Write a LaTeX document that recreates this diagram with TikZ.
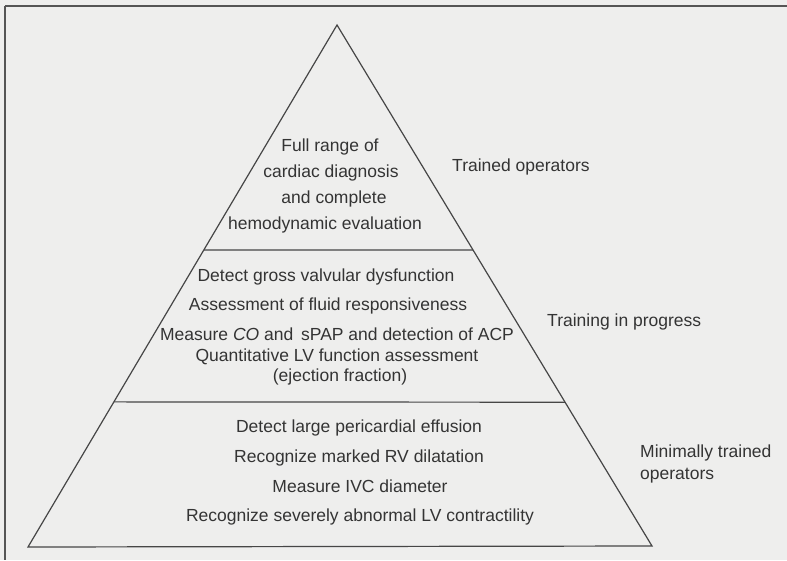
\documentclass[tikz,border=0pt]{standalone}
\usepackage{fontspec}
\setmainfont{Liberation Sans}
\usetikzlibrary{calc}
\definecolor{bgc}{RGB}{238,238,237}
\definecolor{txtc}{RGB}{52,52,52}
\definecolor{linec}{RGB}{70,70,70}
\definecolor{framec}{RGB}{85,85,85}
\begin{document}
\begin{tikzpicture}[x=1pt,y=-1pt,
  lbl/.style={font=\fontsize{17.5}{20}\selectfont, text=txtc, inner sep=0pt, text height=12.5pt, text depth=3.7pt},
  side/.style={lbl, anchor=west},
  edge/.style={draw=linec, line width=1.2pt},
  framel/.style={draw=framec}]
\fill[bgc] (0,0) rectangle (787,560);
\useasboundingbox (0,0) rectangle (787,560);
% page frame
\coordinate (ftl) at (5,6);
\coordinate (ftr) at (787,6);
\coordinate (fbl) at (5,560);
\draw[framel, line width=2pt] (ftl) -- (ftr);
\draw[framel, line width=1.2pt] (ftl) -- (fbl);
% pyramid
\coordinate (apex) at (337,25);
\coordinate (bl) at (28,547);
\coordinate (br) at (652,546);
\draw[edge, line join=miter] (bl) -- (apex) -- (br) -- cycle;
\coordinate (d1l) at ($(apex)!0.431!(bl)$);
\coordinate (d1r) at ($(apex)!0.432!(br)$);
\coordinate (d2l) at ($(apex)!0.722!(bl)$);
\coordinate (d2r) at ($(apex)!0.724!(br)$);
\draw[edge] (d1l) -- (d1r);
\draw[edge] (d2l) -- (d2r);
% top tier
\node[lbl] (t1) at (330,147) {Full range of};
\node[lbl] (t2) at (331,173) {cardiac diagnosis};
\node[lbl] (t3) at (334,199) {and complete};
\node[lbl] (t4) at (325,225) {hemodynamic evaluation};
% middle tier
\node[lbl] (m1) at (326,277) {Detect gross valvular dysfunction};
\node[lbl] (m2) at (328,306) {Assessment of fluid responsiveness};
\node[lbl] (m3) at (337,336) {Measure \textit{CO} and\, sPAP and detection of ACP};
\node[lbl] (m4) at (337,357) {Quantitative LV function assessment};
\node[lbl] (m5) at (340,377) {(ejection fraction)};
% bottom tier
\node[lbl] (b1) at (359,428) {Detect large pericardial effusion};
\node[lbl] (b2) at (359,458) {Recognize marked RV dilatation};
\node[lbl] (b3) at (360,488) {Measure IVC diameter};
\node[lbl] (b4) at (360,517) {Recognize severely abnormal LV contractility};
% side labels
\node[side] (s1) at (452,167) {Trained operators};
\node[side] (s2) at (547,322) {Training in progress};
\node[side] (s3) at (640,453) {Minimally trained};
\node[side] (s4) at (640,475) {operators};
\end{tikzpicture}
\end{document}
